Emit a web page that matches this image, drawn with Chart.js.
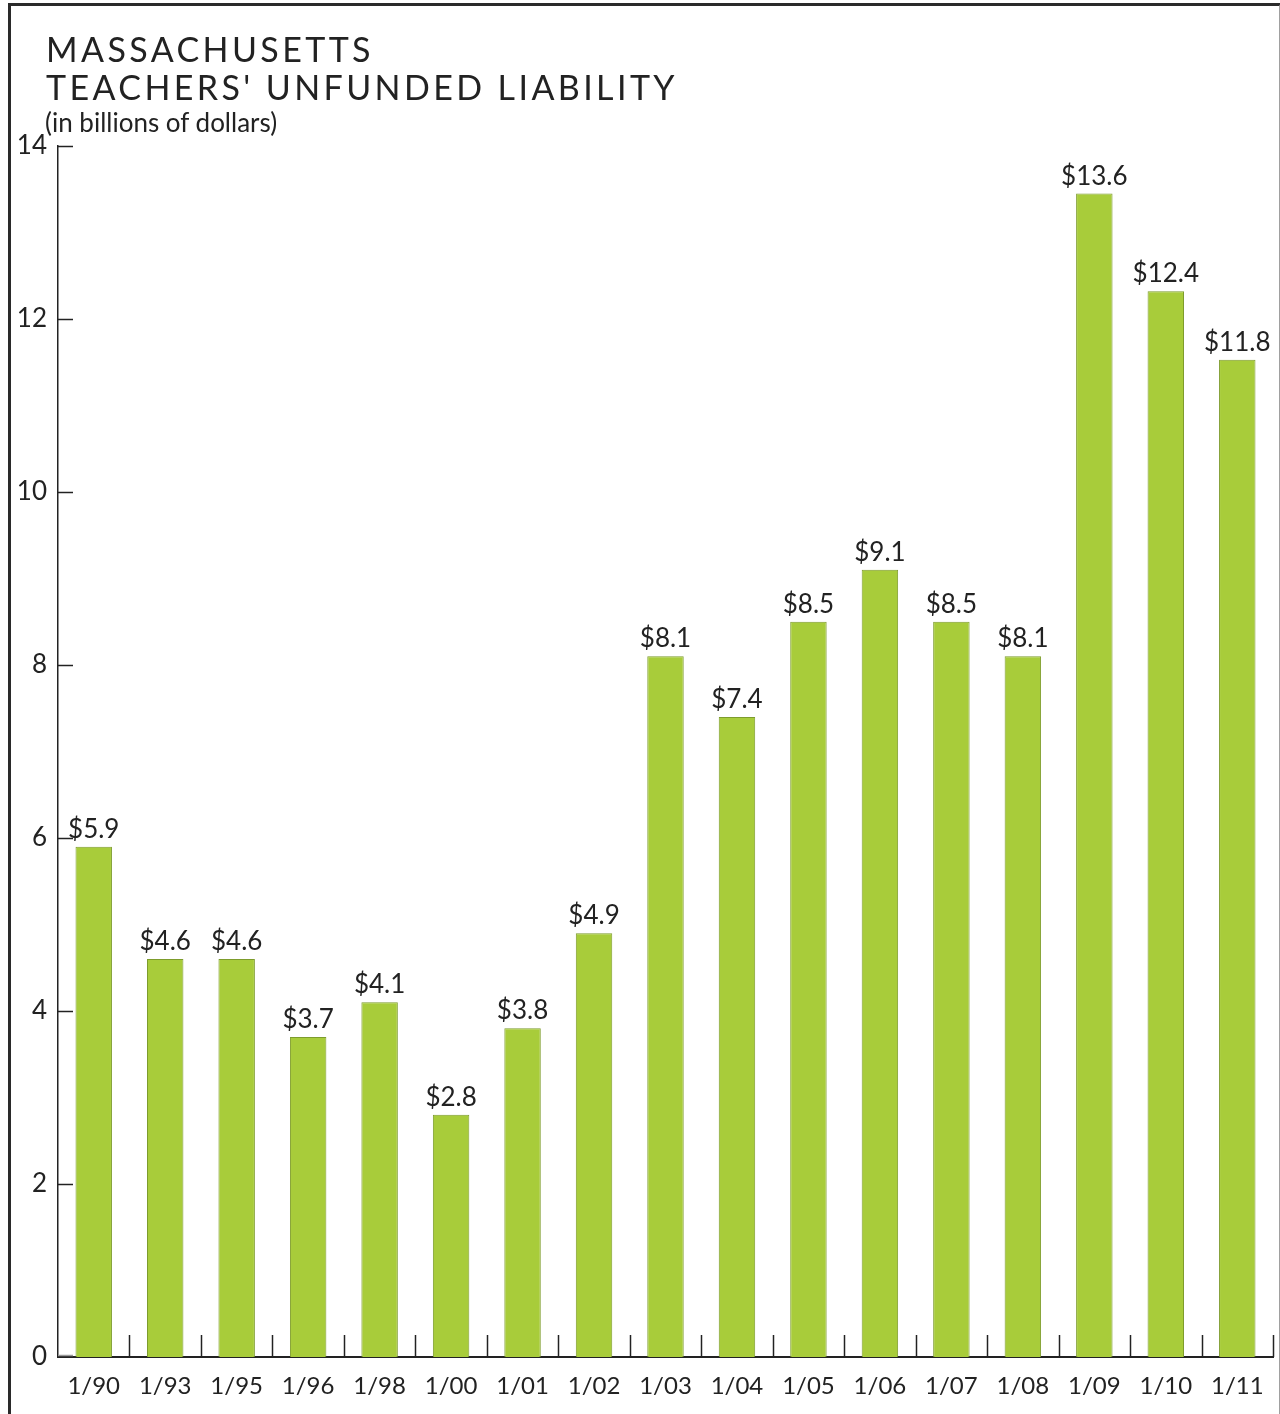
<!DOCTYPE html>
<html>
<head>
<meta charset="utf-8">
<title>Massachusetts Teachers' Unfunded Liability</title>
<script src="https://cdn.jsdelivr.net/npm/chart.js@4.4.1/dist/chart.umd.min.js"></script>
<style>
  html, body { margin: 0; padding: 0; background: #fff; }
  #wrap { position: relative; width: 1280px; height: 1414px; overflow: hidden; }
  #frame {
    position: absolute; left: 8px; top: 3px; width: 1268px; height: 1420px;
    border-top: 3px solid #2a2a2a; border-left: 3px solid #2a2a2a; border-right: 2px solid #a0a0a0;
  }
  #title {
    position: absolute; left: 46px; top: 30px;
    font-family: Lato, "DejaVu Sans", sans-serif; font-size: 34px; line-height: 38px;
    letter-spacing: 3.4px; color: #222;
  }
  #subtitle {
    position: absolute; left: 45px; top: 106px;
    font-family: Lato, "DejaVu Sans", sans-serif; font-size: 26px; color: #222;
  }
  canvas { position: absolute; left: 0; top: 0; }
</style>
</head>
<body>
<div id="wrap">
  <div id="frame"></div>
  <canvas id="liabilityChart" width="1280" height="1414"></canvas>
  <div id="title">MASSACHUSETTS<br>TEACHERS' UNFUNDED LIABILITY</div>
  <div id="subtitle">(in billions of dollars)</div>
</div>
<script>
// 연도 구분 (x축)
const categories = ['1/90', '1/93', '1/95', '1/96', '1/98', '1/00', '1/01', '1/02', '1/03',
                    '1/04', '1/05', '1/06', '1/07', '1/08', '1/09', '1/10', '1/11'];

// 막대 높이 (그림에서 읽은 값, 십억 달러)
const barValues = [5.9, 4.6, 4.6, 3.7, 4.1, 2.8, 3.8, 4.9, 8.1,
                   7.4, 8.5, 9.1, 8.5, 8.1, 13.45, 12.32, 11.53];

// 막대 위에 찍힌 라벨
const valueLabels = ['$5.9', '$4.6', '$4.6', '$3.7', '$4.1', '$2.8', '$3.8', '$4.9', '$8.1',
                     '$7.4', '$8.5', '$9.1', '$8.5', '$8.1', '$13.6', '$12.4', '$11.8'];

// y축 눈금
const yTicks = [0, 2, 4, 6, 8, 10, 12, 14];

const FONT = 'Lato, "DejaVu Sans", sans-serif';
const INK = '#222';

// 축 눈금(안쪽), 구간 눈금, 값 라벨을 그리는 플러그인
const decorPlugin = {
  id: 'decor',
  afterDatasetsDraw(chart) {
    const ctx = chart.ctx;
    const x = chart.scales.x;
    const y = chart.scales.y;
    const area = chart.chartArea;
    ctx.save();

    // y축 안쪽 눈금
    ctx.lineWidth = 1.5;
    yTicks.forEach(v => {
      const py = Math.round(y.getPixelForValue(v)) + 0.5;
      ctx.strokeStyle = v === 0 ? '#9a9a9a' : INK;
      ctx.beginPath();
      ctx.moveTo(area.left, v === 0 ? py - 2 : py);
      ctx.lineTo(area.left + 15, v === 0 ? py - 2 : py);
      ctx.stroke();
    });

    // 카테고리 사이 세로 눈금 (위쪽으로)
    ctx.strokeStyle = INK;
    for (let i = 1; i <= categories.length; i++) {
      const px = Math.round(x.getPixelForValue(i - 0.5)) + 0.5;
      ctx.beginPath();
      ctx.moveTo(px, area.bottom);
      ctx.lineTo(px, area.bottom - 22);
      ctx.stroke();
    }

    // 값 라벨
    const meta = chart.getDatasetMeta(0);
    ctx.fillStyle = INK;
    ctx.font = '26px ' + FONT;
    ctx.textAlign = 'center';
    ctx.textBaseline = 'alphabetic';
    meta.data.forEach((bar, i) => {
      ctx.fillText(valueLabels[i], bar.x, bar.y - 9);
    });
    ctx.restore();
  }
};

new Chart(document.getElementById('liabilityChart'), {
  type: 'bar',
  data: {
    labels: categories,
    datasets: [{
      data: barValues,
      backgroundColor: '#a8cc3a',
      borderColor: '#7d9c2c',
      borderWidth: 1,
      barPercentage: 0.51,
      categoryPercentage: 1.0
    }]
  },
  options: {
    responsive: false,
    animation: false,
    layout: { padding: { top: 146, right: 7, left: 0, bottom: 0 } },
    plugins: { legend: { display: false }, tooltip: { enabled: false } },
    scales: {
      x: {
        grid: { display: false },
        border: { display: true, color: INK, width: 2 },
        ticks: {
          color: INK, font: { family: FONT, size: 24 },
          padding: 7, maxRotation: 0, autoSkip: false
        },
        afterFit(scale) { scale.height = 57; }
      },
      y: {
        min: 0, max: 14,
        grid: { display: false },
        border: { display: true, color: INK, width: 1.5 },
        afterBuildTicks(scale) { scale.ticks = yTicks.map(v => ({ value: v })); },
        ticks: {
          color: INK, font: { family: FONT, size: 26 }, padding: 3
        },
        afterFit(scale) { scale.width = 58; }
      }
    }
  },
  plugins: [decorPlugin]
});
</script>
</body>
</html>
